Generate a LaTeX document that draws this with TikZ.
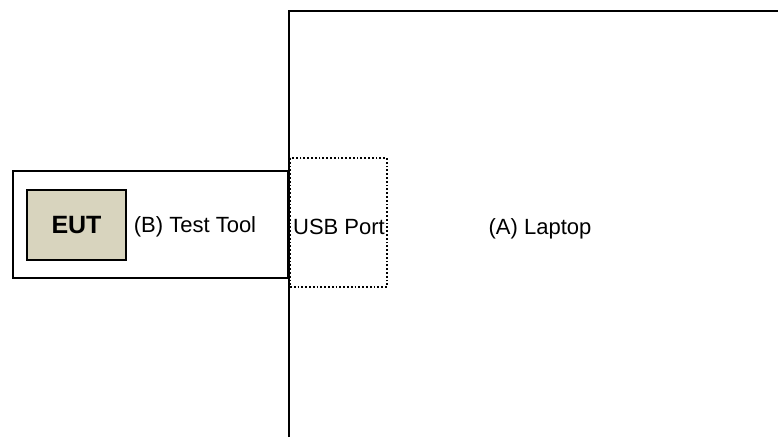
\documentclass[tikz,border=0pt]{standalone}
\usepackage{fontspec}
\setmainfont{Liberation Sans}
\begin{document}
\begin{tikzpicture}[x=1pt,y=-1pt,
  box/.style={draw=black,line width=2pt,inner sep=0pt,outer sep=0pt},
  lbl/.style={font=\fontsize{22}{26}\selectfont,inner sep=0pt}]
\useasboundingbox (0,0) rectangle (778,437);
% laptop outline (open to right and bottom)
\coordinate (lapBL) at (289,437);
\coordinate (lapTL) at (289,11);
\coordinate (lapTR) at (778,11);
\draw[line width=2.5pt] (lapBL) -- (lapTL) -- (lapTR);
\node[lbl] (laptop) at (540,229) {(A) Laptop};
% test tool
\node[box,line width=2.5pt,minimum width=275pt,minimum height=107pt] (tool) at (150.5,224.5) {};
\node[box,fill={rgb,255:red,216;green,212;blue,190},minimum width=99pt,minimum height=70pt] (eut) at (76.5,225) {};
\node[font=\fontsize{25}{29}\selectfont\bfseries,inner sep=0pt] at (eut.center) {EUT};
\node[lbl] (tooltxt) at (195,227) {(B) Test Tool};
% USB port
\node[draw=black,dotted,line width=1.8pt,minimum width=97pt,minimum height=129pt,inner sep=0pt] (usb) at (338.5,222.5) {};
\node[lbl] (usbtxt) at (339,227) {USB Port};
\end{tikzpicture}
\end{document}
